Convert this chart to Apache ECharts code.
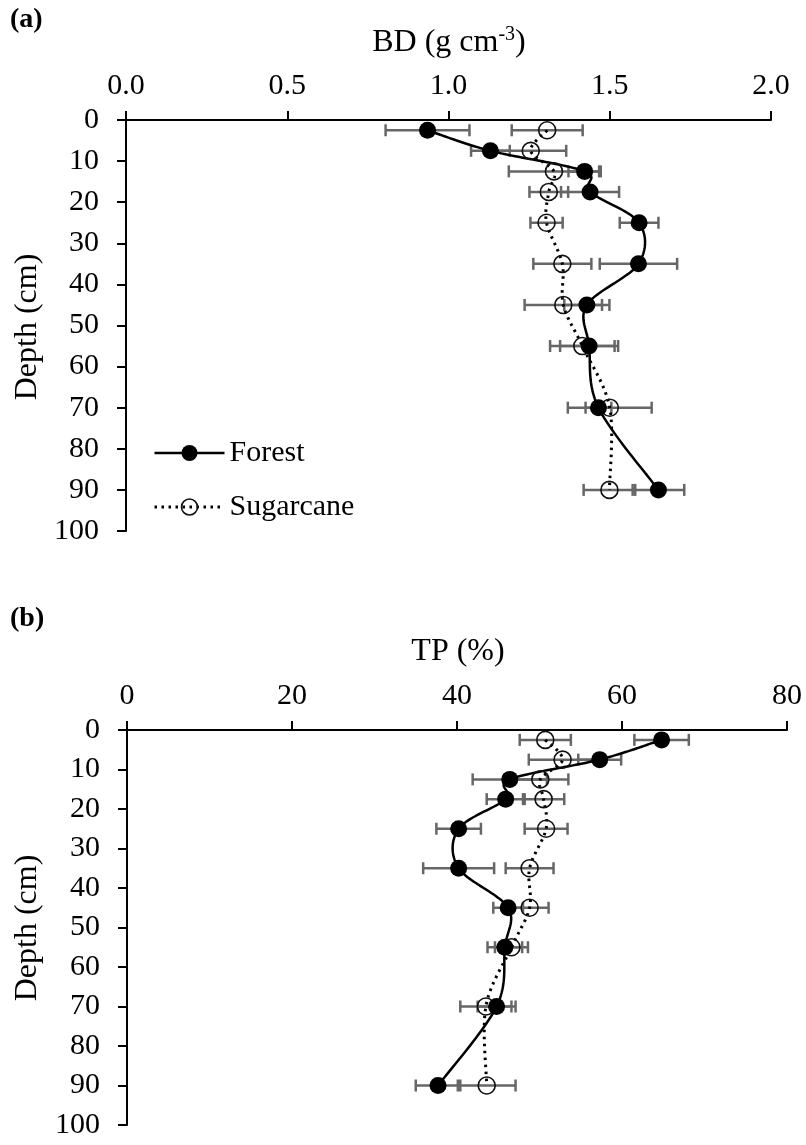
<!DOCTYPE html>
<html>
<head>
<meta charset="utf-8">
<script src="https://cdn.jsdelivr.net/npm/echarts@6/dist/echarts.min.js"></script>
<style>
html,body{margin:0;padding:0;background:#fff;}
#chart{width:806px;height:1145px;}
</style>
</head>
<body>
<div id="chart"></div>
<script>
// ---- data ----
const depth = [2.5, 7.5, 12.5, 17.5, 25, 35, 45, 55, 70, 90];

const forestBD    = [0.935, 1.13, 1.422, 1.439, 1.591, 1.589, 1.429, 1.436, 1.465, 1.651];
const forestBDErr = [0.13, 0.06, 0.05, 0.09, 0.06, 0.12, 0.07, 0.09, 0.04, 0.08];
const sugarBD     = [1.306, 1.255, 1.327, 1.311, 1.304, 1.353, 1.356, 1.415, 1.50, 1.499];
const sugarBDErr  = [0.11, 0.11, 0.14, 0.06, 0.05, 0.09, 0.12, 0.10, 0.13, 0.08];

const forestTP    = [64.8, 57.3, 46.4, 45.9, 40.2, 40.2, 46.2, 45.8, 44.8, 37.7];
const forestTPErr = [3.3, 2.6, 4.5, 2.3, 2.7, 4.3, 1.8, 2.1, 2.3, 2.7];
const sugarTP     = [50.7, 52.8, 50.1, 50.5, 50.8, 48.8, 48.8, 46.6, 43.5, 43.6];
const sugarTPErr  = [3.1, 4.1, 3.4, 2.5, 2.6, 2.9, 2.3, 2.0, 3.1, 3.5];

const seriesNames = ['Forest', 'Sugarcane'];
const bdTicks = {min: 0, max: 2, interval: 0.5};
const tpTicks = {min: 0, max: 80, interval: 20};
const depthTicks = {min: 0, max: 100, interval: 10};

// ---- styling ----
const FONT = 'Liberation Serif';
const FS = 30;
const TFS = 32;
const txt = {fontFamily: FONT, fontSize: FS, color: '#000'};
const forestLine = {color: '#000', width: 2.5, type: 'solid'};
const sugarLine = {color: '#000', width: 3, type: [2.5, 4.5]};

function pairs(xs) { return xs.map((v, i) => [v, depth[i]]); }
function errData(xs, es) { return xs.map((v, i) => [v, es[i], depth[i]]); }

function errSeries(xIdx, xs, es) {
  return {
    type: 'custom',
    xAxisIndex: xIdx, yAxisIndex: xIdx,
    z: 1,
    silent: true,
    data: errData(xs, es),
    encode: {x: [0], y: 2},
    renderItem: function (params, api) {
      const x = api.value(0), e = api.value(1), y = api.value(2);
      const a = api.coord([x - e, y]);
      const b = api.coord([x + e, y]);
      const h = 6;
      const st = {stroke: '#666', lineWidth: 2.5};
      return {
        type: 'group',
        children: [
          {type: 'line', shape: {x1: a[0], y1: a[1], x2: b[0], y2: b[1]}, style: st},
          {type: 'line', shape: {x1: a[0], y1: a[1] - h, x2: a[0], y2: a[1] + h}, style: st},
          {type: 'line', shape: {x1: b[0], y1: b[1] - h, x2: b[0], y2: b[1] + h}, style: st}
        ]
      };
    }
  };
}

// Smoothed (Catmull-Rom, Excel-like) curve drawn through the axis scales
function curveSeries(idx, xs, ls, z) {
  return {
    type: 'custom', xAxisIndex: idx, yAxisIndex: idx, z: z, silent: true,
    data: pairs(xs), encode: {x: 0, y: 1},
    renderItem: function (params, api) {
      if (params.dataIndex !== 0) return null;
      const p = xs.map((v, i) => api.coord([v, depth[i]]));
      const n = p.length;
      const out = [];
      for (let i = 0; i < n - 1; i++) {
        const p0 = p[Math.max(i - 1, 0)], p1 = p[i], p2 = p[i + 1], p3 = p[Math.min(i + 2, n - 1)];
        const c1 = [p1[0] + (p2[0] - p0[0]) / 6, p1[1] + (p2[1] - p0[1]) / 6];
        const c2 = [p2[0] - (p3[0] - p1[0]) / 6, p2[1] - (p3[1] - p1[1]) / 6];
        const steps = 24;
        for (let s = (i === 0 ? 0 : 1); s <= steps; s++) {
          const t = s / steps, u = 1 - t;
          out.push([
            u*u*u*p1[0] + 3*u*u*t*c1[0] + 3*u*t*t*c2[0] + t*t*t*p2[0],
            u*u*u*p1[1] + 3*u*u*t*c1[1] + 3*u*t*t*c2[1] + t*t*t*p2[1]
          ]);
        }
      }
      return {
        type: 'polyline', shape: {points: out},
        style: {stroke: ls.color, lineWidth: ls.width, fill: null,
          lineDash: Array.isArray(ls.type) ? ls.type : null}
      };
    }
  };
}

function markerSeries(idx, name, xs, itemStyle) {
  return {
    name: name, type: 'line', xAxisIndex: idx, yAxisIndex: idx,
    data: pairs(xs), z: 3,
    symbol: 'circle', symbolSize: 17,
    lineStyle: {opacity: 0, width: 0},
    itemStyle: itemStyle,
    emphasis: {disabled: true}
  };
}
const forestItem = {color: '#000', borderColor: '#000', borderWidth: 0};
const sugarItem = {color: 'rgba(255,255,255,0)', borderColor: '#111', borderWidth: 1.6};

function xAxis(gi, t, fmt) {
  return {
    type: 'value', gridIndex: gi, position: 'top',
    min: t.min, max: t.max, interval: t.interval,
    axisLine: {show: true, onZero: false, lineStyle: {color: '#000', width: 2}},
    axisTick: {show: true, inside: false, length: 9, lineStyle: {color: '#000', width: 2}},
    axisLabel: Object.assign({margin: 19, formatter: fmt}, txt),
    splitLine: {show: false}
  };
}
function yAxis(gi) {
  return {
    type: 'value', gridIndex: gi, inverse: true,
    min: depthTicks.min, max: depthTicks.max, interval: depthTicks.interval,
    axisLine: {show: true, onZero: false, lineStyle: {color: '#000', width: 2}},
    axisTick: {show: true, inside: false, length: 9, lineStyle: {color: '#000', width: 2}},
    axisLabel: Object.assign({margin: 27}, txt),
    splitLine: {show: false}
  };
}

const chart = echarts.init(document.getElementById('chart'), null, {renderer: 'canvas'});
chart.setOption({
  backgroundColor: '#fff',
  animation: false,
  grid: [
    {left: 126, top: 120, width: 645, height: 411},
    {left: 127, top: 730, width: 660, height: 395}
  ],
  xAxis: [
    xAxis(0, bdTicks, v => v.toFixed(1)),
    xAxis(1, tpTicks, v => String(v))
  ],
  yAxis: [yAxis(0), yAxis(1)],
  legend: {
    orient: 'vertical', left: 153, top: 438, padding: 0,
    itemWidth: 70, itemHeight: 20, itemGap: 24,
    data: [
      {name: seriesNames[0], lineStyle: Object.assign({opacity: 1}, forestLine), itemStyle: forestItem},
      {name: seriesNames[1], lineStyle: Object.assign({opacity: 1}, sugarLine), itemStyle: sugarItem}
    ],
    textStyle: {fontFamily: FONT, fontSize: FS, color: '#000'},
    selectedMode: false
  },
  graphic: [
    {type: 'text', left: 10, top: 6, style: {text: '(a)', font: 'bold 28px "Liberation Serif"', fill: '#000'}},
    {type: 'text', left: 10, top: 605, style: {text: '(b)', font: 'bold 28px "Liberation Serif"', fill: '#000'}},
    {type: 'text', x: 449, y: 42, style: {
      text: '{n|BD (g cm}{s|-3}{n|)}', align: 'center', verticalAlign: 'middle',
      rich: {
        n: {fontFamily: FONT, fontSize: TFS, fill: '#000', lineHeight: 34, verticalAlign: 'bottom'},
        s: {fontFamily: FONT, fontSize: 20, fill: '#000', lineHeight: 34, verticalAlign: 'top'}
      }}},
    {type: 'text', x: 458, y: 652, style: {text: 'TP (%)', font: '32px "Liberation Serif"', fill: '#000', align: 'center', verticalAlign: 'middle'}},
    {type: 'text', x: 28, y: 327, rotation: Math.PI / 2, style: {text: 'Depth (cm)', font: '32px "Liberation Serif"', fill: '#000', align: 'center', verticalAlign: 'middle'}},
    {type: 'text', x: 28, y: 928, rotation: Math.PI / 2, style: {text: 'Depth (cm)', font: '32px "Liberation Serif"', fill: '#000', align: 'center', verticalAlign: 'middle'}}
  ],
  series: [
    errSeries(0, forestBD, forestBDErr),
    errSeries(0, sugarBD, sugarBDErr),
    curveSeries(0, sugarBD, sugarLine, 2),
    curveSeries(0, forestBD, forestLine, 2),
    markerSeries(0, seriesNames[1], sugarBD, sugarItem),
    markerSeries(0, seriesNames[0], forestBD, forestItem),
    errSeries(1, forestTP, forestTPErr),
    errSeries(1, sugarTP, sugarTPErr),
    curveSeries(1, sugarTP, sugarLine, 2),
    curveSeries(1, forestTP, forestLine, 2),
    markerSeries(1, seriesNames[1], sugarTP, sugarItem),
    markerSeries(1, seriesNames[0], forestTP, forestItem)
  ]
});
</script>
</body>
</html>
